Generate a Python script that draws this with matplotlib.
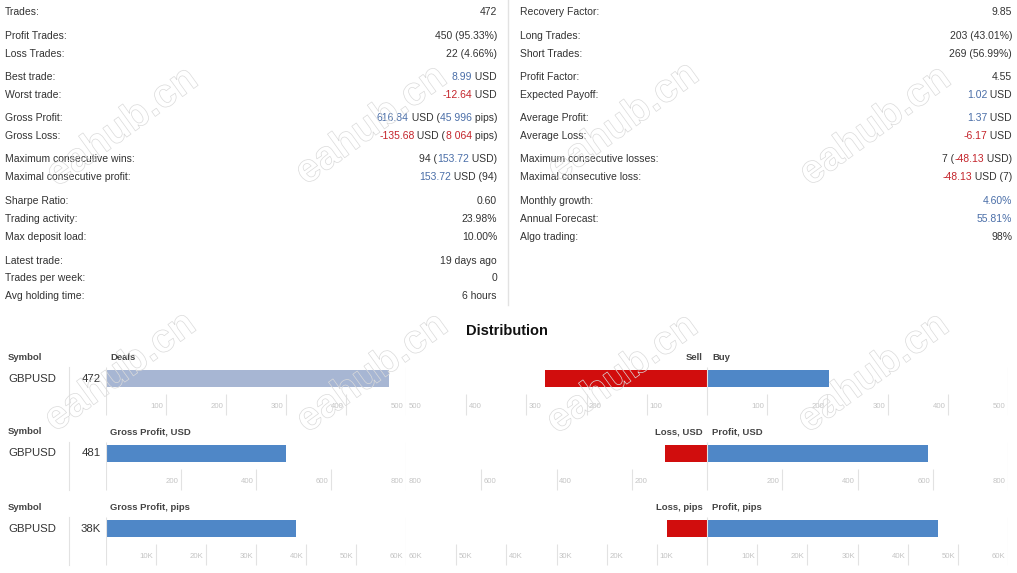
import numpy as np
import matplotlib
matplotlib.use('Agg')
import matplotlib.pyplot as plt
import matplotlib.patheffects as pe

W, H = 1017, 573
FONT = ['Liberation Sans', 'DejaVu Sans']
plt.rcParams['font.family'] = FONT

GREY = '#333333'
BLUE = '#4a6ea8'
RED = '#c4242b'
TICKC = '#c4c4c4'
LINEC = '#e2e2e2'

# ---- statistics (text blocks) ----
left_labels = ['Trades:', 'Profit Trades:', 'Loss Trades:', 'Best trade:', 'Worst trade:',
               'Gross Profit:', 'Gross Loss:', 'Maximum consecutive wins:',
               'Maximal consecutive profit:', 'Sharpe Ratio:', 'Trading activity:',
               'Max deposit load:', 'Latest trade:', 'Trades per week:', 'Avg holding time:']
left_values = [
    [('472', GREY)],
    [('450 (95.33%)', GREY)],
    [('22 (4.66%)', GREY)],
    [('8.99', BLUE), (' USD', GREY)],
    [('-12.64', RED), (' USD', GREY)],
    [('616.84', BLUE), (' USD (', GREY), ('45 996', BLUE), (' pips)', GREY)],
    [('-135.68', RED), (' USD (', GREY), ('8 064', RED), (' pips)', GREY)],
    [('94 (', GREY), ('153.72', BLUE), (' USD)', GREY)],
    [('153.72', BLUE), (' USD (94)', GREY)],
    [('0.60', GREY)],
    [('23.98%', GREY)],
    [('10.00%', GREY)],
    [('19 days ago', GREY)],
    [('0', GREY)],
    [('6 hours', GREY)],
]
right_labels = ['Recovery Factor:', 'Long Trades:', 'Short Trades:', 'Profit Factor:',
                'Expected Payoff:', 'Average Profit:', 'Average Loss:',
                'Maximum consecutive losses:', 'Maximal consecutive loss:',
                'Monthly growth:', 'Annual Forecast:', 'Algo trading:']
right_values = [
    [('9.85', GREY)],
    [('203 (43.01%)', GREY)],
    [('269 (56.99%)', GREY)],
    [('4.55', GREY)],
    [('1.02', BLUE), (' USD', GREY)],
    [('1.37', BLUE), (' USD', GREY)],
    [('-6.17', RED), (' USD', GREY)],
    [('7 (', GREY), ('-48.13', RED), (' USD)', GREY)],
    [('-48.13', RED), (' USD (7)', GREY)],
    [('4.60%', BLUE)],
    [('55.81%', BLUE)],
    [('98%', GREY)],
]
row_y = [12, 36, 54, 77, 95, 118, 136, 159.5, 177.5, 201, 219, 237, 260.5, 278, 296]

# ---- distribution ----
symbol = 'GBPUSD'
dist_titles = ['Deals', 'Gross Profit, USD', 'Gross Profit, pips']
dist_left = ['Sell', 'Loss, USD', 'Loss, pips']
dist_right = ['Buy', 'Profit, USD', 'Profit, pips']
dist_total = [472, 481, 38000]
dist_total_label = ['472', '481', '38K']
dist_neg = [269, 111, 8064]
dist_pos = [203, 588, 45996]
dist_max = [500, 800, 60000]
dist_step = [100, 200, 10000]

fig = plt.figure(figsize=(W / 100, H / 100), dpi=100)
base = fig.add_axes([0, 0, 1, 1])
base.set_xlim(0, W)
base.set_ylim(H, 0)
base.axis('off')
renderer = fig.canvas.get_renderer()


def text_w(s, **kw):
    t = base.text(0, 0, '|' + s + '|', **kw)
    t2 = base.text(0, 0, '||', **kw)
    w = t.get_window_extent(renderer).width - t2.get_window_extent(renderer).width
    t.remove()
    t2.remove()
    return w


def rich_right(x, y, segs, size=7.5):
    for s, c in reversed(segs):
        base.text(x, y, s, ha='right', va='center', color=c, fontsize=size)
        x -= text_w(s, fontsize=size)


for lab, segs, y in zip(left_labels, left_values, row_y):
    base.text(5, y, lab, ha='left', va='center', color=GREY, fontsize=7.5)
    rich_right(497, y, segs)
for lab, segs, y in zip(right_labels, right_values, row_y):
    base.text(520, y, lab, ha='left', va='center', color=GREY, fontsize=7.5)
    rich_right(1012, y, segs)
base.plot([508, 508], [0, 305], color=LINEC, lw=1)

base.text(507, 331, 'Distribution', ha='center', va='center', fontsize=10.5,
          fontweight='bold', color='#111111')


def px_axes(x0, y0, x1, y1):
    a = fig.add_axes([x0 / W, 1 - y1 / H, (x1 - x0) / W, (y1 - y0) / H])
    a.set_ylim(y1 - y0, 0)
    a.axis('off')
    return a


def fmt(v, big):
    v = abs(v)
    return f'{int(v / 1000)}K' if big else f'{int(v)}'


for r in range(3):
    dy = 75 * r
    top = 365 + dy
    big = dist_max[r] >= 10000
    m, st = dist_max[r], dist_step[r]

    base.text(8, 357 + dy, 'Symbol', ha='left', va='center', fontsize=6.8,
              fontweight='bold', color='#444444')
    base.text(110, 357 + dy, dist_titles[r], ha='left', va='center', fontsize=6.8,
              fontweight='bold', color='#444444')
    base.text(703, 357 + dy, dist_left[r], ha='right', va='center', fontsize=6.8,
              fontweight='bold', color='#444444')
    base.text(712, 357 + dy, dist_right[r], ha='left', va='center', fontsize=6.8,
              fontweight='bold', color='#444444')
    base.text(8, 378.5 + dy, symbol, ha='left', va='center', fontsize=8.2, color=GREY)
    base.text(101, 378.5 + dy, dist_total_label[r], ha='right', va='center',
              fontsize=8.2, color=GREY)
    base.plot([69, 69], [367 + dy, 415 + dy], color=LINEC, lw=0.8)

    # left panel
    axl = px_axes(105.7, top, 406, top + 52)
    axl.set_xlim(0, m)
    off = 2.5 * m / 300.3
    axl.vlines([0, m], 2, 50, color=LINEC, lw=0.8)
    ticks = np.arange(st, m + 1, st)
    axl.vlines(ticks[:-1], 29, 50, color=LINEC, lw=0.8)
    for t in ticks:
        axl.text(t - off, 41.5, fmt(t, big), ha='right', va='center',
                 fontsize=5.6, color=TICKC)
    axl.barh(13.5, dist_total[r], height=17, color='#a7b6d3' if r == 0 else '#4f87c7')

    # right panel
    axr = px_axes(406, top, 1008, top + 52)
    axr.set_xlim(-m, m)
    off = 2.5 * m / 301
    axr.vlines([0, m], 2, 50, color=LINEC, lw=0.8)
    axr.vlines(ticks[:-1], 29, 50, color=LINEC, lw=0.8)
    axr.vlines(-ticks[:-1], 29, 50, color=LINEC, lw=0.8)
    for t in ticks:
        axr.text(t - off, 41.5, fmt(t, big), ha='right', va='center',
                 fontsize=5.6, color=TICKC)
        axr.text(-t + off, 41.5, fmt(t, big), ha='left', va='center',
                 fontsize=5.6, color=TICKC)
    axr.barh(13.5, -dist_neg[r], height=17, color='#d10d0d')
    axr.barh(13.5, dist_pos[r], height=17, color='#4f87c7')

# watermark (hollow outline text on top)
over = fig.add_axes([0, 0, 1, 1])
over.set_xlim(0, W)
over.set_ylim(H, 0)
over.axis('off')
over.patch.set_alpha(0)
wm = [(122, 127), (371, 125), (623, 122), (875, 126),
      (120, 372), (372, 373), (622, 374), (873, 373)]
for x, y in wm:
    over.text(x, y, 'eahub.cn', ha='center', va='center', fontsize=29, rotation=36,
              fontweight='bold', color='none',
              path_effects=[pe.Stroke(linewidth=0.5, foreground='#dadada')])

fig.savefig('out.png', dpi=100)
